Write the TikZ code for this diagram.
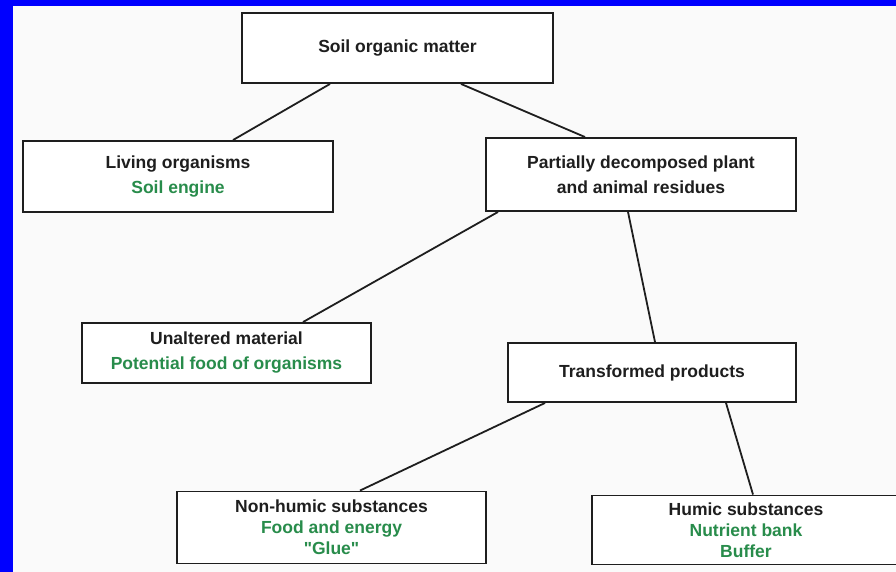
\documentclass[tikz,border=0pt]{standalone}
\usepackage{fontspec}
\setmainfont{Liberation Sans}
\usetikzlibrary{positioning}

\definecolor{frameblue}{RGB}{0,0,255}
\definecolor{notegreen}{RGB}{40,140,75}
\definecolor{inkgray}{RGB}{30,30,30}

\tikzset{
  box/.style={draw=inkgray, line width=1.9pt, rectangle, fill=white,
    align=center, inner sep=2pt, text=inkgray,
    font=\bfseries\fontsize{17.5}{21}\selectfont},
  link/.style={draw=inkgray, line width=1.8pt}
}
\newcommand{\note}[1]{\textcolor{notegreen}{#1}}

\begin{document}
\begin{tikzpicture}[x=1pt,y=-1pt]
  \useasboundingbox (0,0) rectangle (896,572);
  \fill[frameblue] (0,0) rectangle (896,572);
  \fill[white!98!black] (13,6) rectangle (896,572);

  \node[box, minimum width=311pt, minimum height=70pt] (som) at (397.5,48)
    {Soil organic matter};
  \node[box, minimum width=310pt, minimum height=71pt] (living) at (178,176.5)
    {Living organisms\\[4pt]\note{Soil engine}};
  \node[box, minimum width=310pt, minimum height=73pt] (partial) at (641,174.5)
    {Partially decomposed plant\\[4pt]and animal residues};
  \node[box, minimum width=289pt, minimum height=60pt] (unaltered) at (226.5,353)
    {Unaltered material\\[4pt]\note{Potential food of organisms}};
  \node[box, minimum width=288pt, minimum height=59pt] (transformed) at (652,372.5)
    {Transformed products};
  \node[box, minimum width=309pt, minimum height=72pt] (nonhumic) at (331.5,527.5)
    {Non-humic substances\\\note{Food and energy}\\\note{\textquotedbl Glue\textquotedbl}};
  \node[box, minimum width=308pt, minimum height=69pt] (humic) at (746,530)
    {Humic substances\\\note{Nutrient bank}\\\note{Buffer}};

  % connectors between the boxes
  \draw[link] ([xshift=-67.5pt]som.south) -- ([xshift=55pt]living.north);
  \draw[link] ([xshift=63.5pt]som.south) -- ([xshift=-56pt]partial.north);
  \draw[link] ([xshift=-143pt]partial.south) -- ([xshift=76.5pt]unaltered.north);
  \draw[link] ([xshift=-13pt]partial.south) -- ([xshift=3pt]transformed.north);
  \draw[link] ([xshift=-107pt]transformed.south) -- ([xshift=28.5pt]nonhumic.north);
  \draw[link] ([xshift=74pt]transformed.south) -- ([xshift=7pt]humic.north);
\end{tikzpicture}
\end{document}
